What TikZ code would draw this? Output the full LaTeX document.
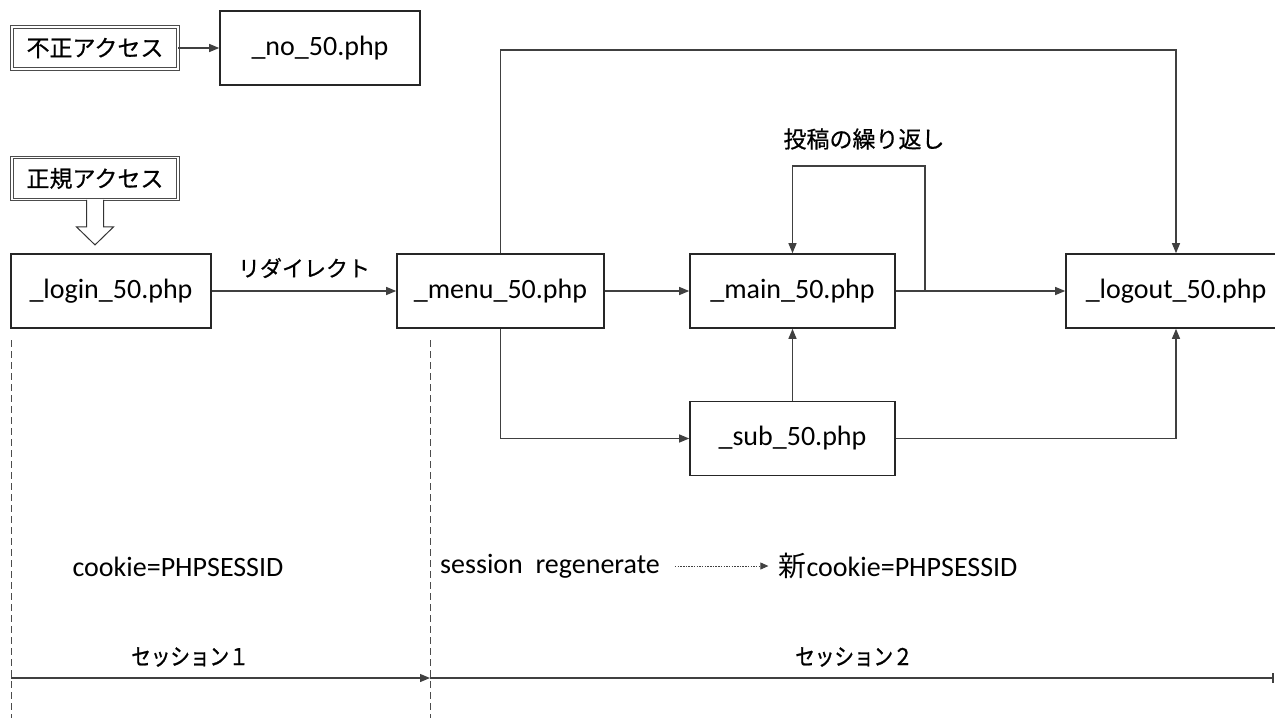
\documentclass[tikz,border=0pt]{standalone}
\usepackage{fontspec}
\setmainfont{Carlito}
\newfontfamily\jp{Noto Sans CJK JP}
\newfontfamily\jpb[FakeBold=0.6]{Noto Sans CJK JP}
\newfontfamily\jpc[FakeStretch=0.85,FakeBold=1]{Noto Sans CJK JP}
\usetikzlibrary{arrows.meta}
\begin{document}
\begin{tikzpicture}[x=1pt,y=-1pt,
  pagebox/.style={draw=black!85,line width=1.6pt,minimum width=#1,minimum height=74pt,inner sep=0pt,font=\fontsize{28}{30}\selectfont},
  pagebox/.default=205pt,
  accbox/.style={draw=black!70,line width=0.8pt,double,double distance=1.6pt,minimum width=166pt,minimum height=42pt,inner sep=0pt,font=\jpb\fontsize{23}{25}\selectfont},
  conn/.style={draw=black!75,line width=1.2pt,-{Triangle[length=10pt,width=8pt]}},
  plain/.style={inner sep=0pt,font=\fontsize{28}{30}\selectfont},
  jlabel/.style={inner sep=0pt,font=\jpb\fontsize{22}{24}\selectfont},
  sesslabel/.style={inner sep=0pt,font=\jpc\fontsize{23}{25}\selectfont},
  sepline/.style={draw=black!70,line width=0.8pt,dash pattern=on 7pt off 4pt},
]
\useasboundingbox (0,0) rectangle (1275,718);

% nodes
\node[accbox] (ng) at (95,48) {不正アクセス};
\node[pagebox=200pt] (no) at (320,48) {\_no\_50.php};
\node[accbox] (ok) at (95,178.5) {正規アクセス};
\node[pagebox=200pt] (login) at (111,291) {\_login\_50.php};
\node[pagebox=207pt] (menu) at (500.5,291) {\_menu\_50.php};
\node[pagebox] (main) at (792.5,291) {\_main\_50.php};
\node[pagebox=220pt] (logout) at (1176,291) {\_logout\_50.php};
\node[pagebox] (sub) at (792.5,438.5) {\_sub\_50.php};

\node[jlabel,font=\jpb\fontsize{23}{25}\selectfont] (loopl) at (864,139) {投稿の繰り返し};

\node[plain] (ck) at (178,567) {cookie=PHPSESSID};
\node[plain] (sr) at (550,566) {session\ \ regenerate};
\node[plain] (nc) at (898,566) {{\jp 新}cookie=PHPSESSID};

\node[sesslabel] (s1) at (190,657) {セッション１};
\node[sesslabel] (s2) at (854,657) {セッション２};

\coordinate (topy) at (0,50);
\coordinate (lp) at (925,166);
\coordinate (t0) at (11,678);
\coordinate (t1) at (430,678);
\coordinate (t2) at (1274,678);
\coordinate (d0a) at (11,340);
\coordinate (d0b) at (11,718);
\coordinate (d1a) at (430,340);
\coordinate (d1b) at (430,718);

% connectors
\draw[conn] (ng) -- (no);
\draw[black!80,line width=1pt,fill=white,line join=miter]
  ([xshift=-8.5pt]ok.south) -- ++(0,27) -- ++(-10,0) -- ++(18.5,18) -- ++(18.5,-18) -- ++(-10,0) -- ++(0,-27);
\draw[conn] (login) -- node[midway,yshift=23pt,jlabel] (rd) {リダイレクト} (menu);
\draw[conn] (menu) -- (main);
\draw[conn] (main) -- (logout);
\draw[conn] (main.east) -| (lp) -| (main.north);
\draw[conn] (menu.north) -- (menu.north |- topy) -| (logout.north);
\draw[conn] (menu.south) |- (sub.west);
\draw[conn] (sub.north) -- (main.south);
\draw[conn] (sub.east) -| (logout.south);

\draw[draw=black!75,line width=0.8pt,dash pattern=on 1.5pt off 1.2pt,-{Triangle[length=8pt,width=7pt]},shorten <=15pt,shorten >=10pt] (sr) -- (nc);

\draw[sepline] (d0a) -- (d0b);
\draw[sepline] (d1a) -- (d1b);
\draw[conn] (t0) -- (t1);
\draw[draw=black!75,line width=1.2pt,-{Bar[width=10pt,line width=2pt]}] (t1) -- (t2);
\end{tikzpicture}
\end{document}
